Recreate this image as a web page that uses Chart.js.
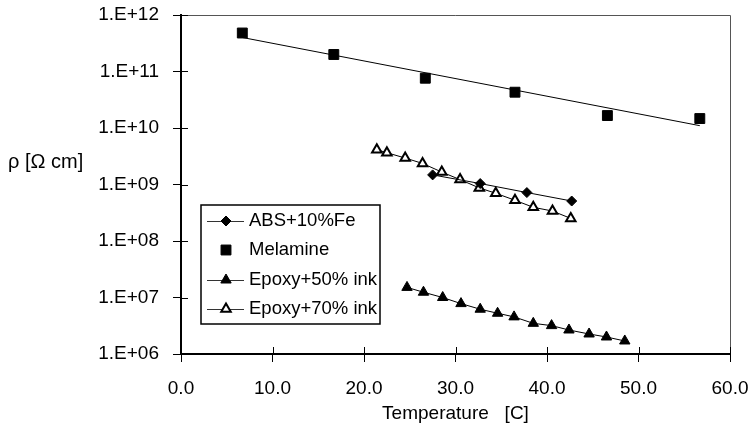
<!DOCTYPE html>
<html>
<head>
<meta charset="utf-8">
<script src="https://cdn.jsdelivr.net/npm/chart.js@4.4.0/dist/chart.umd.min.js"></script>
<style>
  html, body { margin: 0; padding: 0; background: #fff; }
</style>
</head>
<body>
<canvas id="chart" width="750" height="427"></canvas>
<script>
// values
const absT = [27.5, 32.7, 37.8, 42.7];
const absRho = [1.48e9, 1.04e9, 7.2e8, 5.1e8];
const melT = [6.7, 16.7, 26.7, 36.5, 46.6, 56.7];
const melRho = [4.8e11, 2.0e11, 7.6e10, 4.3e10, 1.66e10, 1.47e10];
// Melamine trend line (end points)
const melFitT = [6.7, 56.7];
const melFitRho = [4.0e11, 1.1e10];
const ep50T = [24.7, 26.5, 28.6, 30.6, 32.7, 34.6, 36.4, 38.5, 40.5, 42.4, 44.6, 46.5, 48.5];
const ep50Rho = [1.51e7, 1.24e7, 1.0e7, 7.8e6, 6.2e6, 5.26e6, 4.54e6, 3.49e6, 3.18e6, 2.66e6, 2.26e6, 2.0e6, 1.7e6];
const ep70T = [21.4, 22.5, 24.5, 26.4, 28.5, 30.5, 32.6, 34.4, 36.5, 38.5, 40.6, 42.6];
const ep70Rho = [4.13e9, 3.65e9, 2.94e9, 2.36e9, 1.66e9, 1.22e9, 8.7e8, 7.0e8, 5.26e8, 3.95e8, 3.39e8, 2.51e8];
const yTicks = [1e6, 1e7, 1e8, 1e9, 1e10, 1e11, 1e12];

const black = '#000';
const fontFamily = '"Liberation Sans", Arial, sans-serif';
const font = { family: fontFamily, size: 19 };

function pts(xs, ys) {
  return xs.map((x, i) => ({ x: x, y: ys[i] }));
}

// frame (top/right edges) and the inner half of the tick marks
const framePlugin = {
  id: 'frame',
  beforeDatasetsDraw(chart) {
    const { ctx, chartArea: a, scales } = chart;
    ctx.save();
    ctx.strokeStyle = '#555';
    ctx.lineWidth = 1;
    ctx.beginPath();
    ctx.moveTo(a.left, a.top + 0.5);
    ctx.lineTo(a.right + 0.5, a.top + 0.5);
    ctx.lineTo(a.right + 0.5, a.bottom);
    ctx.stroke();
    ctx.strokeStyle = black;
    ctx.beginPath();
    yTicks.forEach(v => {
      const y = Math.round(scales.y.getPixelForValue(v)) + 0.5;
      ctx.moveTo(a.left, y);
      ctx.lineTo(a.left + 7, y);
    });
    scales.x.ticks.forEach(t => {
      const x = Math.round(scales.x.getPixelForValue(t.value)) + 0.5;
      ctx.moveTo(x, a.bottom);
      ctx.lineTo(x, a.bottom - 7);
    });
    ctx.stroke();
    ctx.restore();
  }
};

// boxed legend inside the plot and the horizontal y label
const legendY = [221, 250, 280, 309];
const boxLegend = {
  id: 'boxLegend',
  afterDraw(chart) {
    const ctx = chart.ctx;
    ctx.save();
    ctx.strokeStyle = black;
    ctx.lineWidth = 1.5;
    ctx.strokeRect(201, 205, 179, 119);
    ctx.font = '18.5px ' + fontFamily;
    ctx.textBaseline = 'middle';
    ctx.textAlign = 'left';
    let row = 0;
    chart.data.datasets.forEach(ds => {
      if (ds.noLegend) return;
      const y = legendY[row++];
      if (ds.showLine !== false) {
        ctx.strokeStyle = '#333';
        ctx.lineWidth = 1;
        ctx.beginPath();
        ctx.moveTo(207, y + 0.5);
        ctx.lineTo(244, y + 0.5);
        ctx.stroke();
      }
      ctx.fillStyle = ds.pointBackgroundColor;
      ctx.strokeStyle = ds.pointBorderColor;
      ctx.lineWidth = ds.pointBorderWidth;
      Chart.helpers.drawPoint(ctx, {
        pointStyle: ds.pointStyle,
        radius: ds.pointRadius,
        rotation: 0,
        borderWidth: ds.pointBorderWidth
      }, 226, y);
      ctx.fillStyle = black;
      ctx.fillText(ds.label, 249, y);
    });
    ctx.font = '20px ' + fontFamily;
    ctx.fillText('\u03c1 [\u03a9 cm]', 8, 162);
    ctx.restore();
  }
};

const ctx = document.getElementById('chart').getContext('2d');
new Chart(ctx, {
  type: 'line',
  data: {
    datasets: [
      {
        label: 'ABS+10%Fe',
        data: pts(absT, absRho),
        borderColor: black, borderWidth: 1,
        pointStyle: 'rectRot', pointRadius: 5,
        pointBackgroundColor: black, pointBorderColor: black, pointBorderWidth: 1
      },
      {
        label: 'Melamine',
        data: pts(melT, melRho),
        showLine: false,
        pointStyle: 'rect', pointRadius: 7,
        pointBackgroundColor: black, pointBorderColor: black, pointBorderWidth: 1
      },
      {
        label: 'Epoxy+50% ink',
        data: pts(ep50T, ep50Rho),
        borderColor: black, borderWidth: 1,
        pointStyle: 'triangle', pointRadius: 6,
        pointBackgroundColor: black, pointBorderColor: black, pointBorderWidth: 1
      },
      {
        label: 'Epoxy+70% ink',
        data: pts(ep70T, ep70Rho),
        borderColor: black, borderWidth: 1,
        pointStyle: 'triangle', pointRadius: 5.5,
        pointBackgroundColor: '#fff', pointBorderColor: black, pointBorderWidth: 2
      },
      {
        label: 'Melamine fit',
        noLegend: true,
        data: pts(melFitT, melFitRho),
        borderColor: black, borderWidth: 1,
        pointRadius: 0
      }
    ]
  },
  options: {
    responsive: false,
    devicePixelRatio: 1,
    animation: false,
    elements: { line: { tension: 0 } },
    layout: { padding: { top: 15, right: 20, left: 0, bottom: 0 } },
    plugins: {
      legend: { display: false },
      tooltip: { enabled: false }
    },
    scales: {
      x: {
        type: 'linear',
        min: 0, max: 60,
        ticks: {
          stepSize: 10,
          maxRotation: 0,
          color: black,
          font: font,
          padding: 15,
          callback: v => v.toFixed(1)
        },
        grid: { drawOnChartArea: false, tickLength: 8, tickColor: black, tickWidth: 1 },
        border: { color: black, width: 2 },
        title: {
          display: true,
          text: 'Temperature   [C]',
          color: black,
          font: font,
          padding: { top: 0, bottom: 2 }
        },
        afterFit: s => {
          s.height = 73;
          s.paddingLeft = 0;
          s.paddingRight = 0;
        }
      },
      y: {
        type: 'logarithmic',
        min: 1e6, max: 1e12,
        afterBuildTicks: s => { s.ticks = yTicks.map(v => ({ value: v })); },
        ticks: {
          color: black,
          font: font,
          padding: 14,
          callback: v => '1.E+' + String(Math.round(Math.log10(v))).padStart(2, '0')
        },
        grid: { drawOnChartArea: false, tickLength: 8, tickColor: black, tickWidth: 1 },
        border: { color: black, width: 2 },
        afterFit: s => {
          s.width = 181;
          s.paddingTop = 0;
          s.paddingBottom = 0;
        }
      }
    }
  },
  plugins: [framePlugin, boxLegend]
});
</script>
</body>
</html>
